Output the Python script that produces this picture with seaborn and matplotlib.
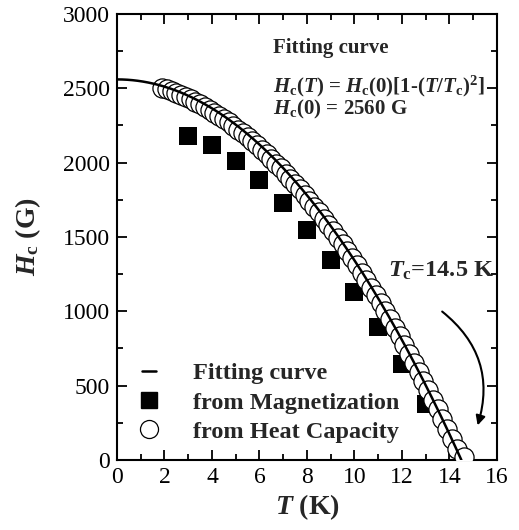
import matplotlib
matplotlib.use("Agg")
import matplotlib.pyplot as plt
from matplotlib.lines import Line2D
from matplotlib.ticker import MultipleLocator
import numpy as np
import seaborn as sns

# fit parameters shown on the chart
HC0 = 2560
TC = 14.5

# from magnetization (filled squares)
mag_T = [3, 4, 5, 6, 7, 8, 9, 10, 11, 12, 13]
mag_H = [2180, 2120, 2010, 1880, 1728, 1545, 1343, 1130, 892, 648, 374]

# from heat capacity (open circles)
hc_T = [1.9, 2.1, 2.3, 2.5, 2.7, 2.9, 3.1, 3.3, 3.5, 3.7, 3.9, 4.1, 4.3, 4.5,
        4.7, 4.9, 5.1, 5.3, 5.5, 5.7, 5.9, 6.1, 6.3, 6.5, 6.7, 6.9, 7.1, 7.3,
        7.5, 7.7, 7.9, 8.1, 8.3, 8.5, 8.7, 8.9, 9.1, 9.3, 9.5, 9.7, 9.9, 10.1,
        10.3, 10.5, 10.7, 10.9, 11.1, 11.3, 11.5, 11.7, 11.9, 12.1, 12.3, 12.5,
        12.7, 12.9, 13.1, 13.3, 13.5, 13.7, 13.9, 14.1, 14.3, 14.6]
hc_H = [2505, 2494, 2482, 2470, 2456, 2442, 2427, 2411, 2394, 2376, 2357, 2337,
        2316, 2294, 2271, 2248, 2223, 2198, 2172, 2144, 2116, 2087, 2057, 2026,
        1994, 1961, 1927, 1892, 1856, 1820, 1782, 1744, 1705, 1665, 1624, 1582,
        1539, 1495, 1450, 1404, 1357, 1309, 1260, 1210, 1159, 1107, 1054, 1000,
        945, 889, 832, 774, 715, 655, 594, 532, 469, 405, 340, 274, 207, 140,
        72, 22]

sns.set_theme(style="ticks")
plt.rcParams['font.family'] = ['Liberation Serif', 'DejaVu Serif']
plt.rcParams['mathtext.fontset'] = 'custom'
plt.rcParams['mathtext.rm'] = 'Liberation Serif:bold'
plt.rcParams['mathtext.it'] = 'Liberation Serif:bold:italic'
plt.rcParams['mathtext.bf'] = 'Liberation Serif:bold'

fig = plt.figure(figsize=(5.19, 5.30), dpi=100)
ax = fig.add_axes([0.2254, 0.1321, 0.7322, 0.8415])

# fit curve
fit_T = np.linspace(0, TC, 200)
fit_H = HC0 * (1 - (fit_T / TC) ** 2)

sns.scatterplot(x=mag_T, y=mag_H, marker='s', s=150, color='black',
                edgecolor='black', linewidth=0, ax=ax, zorder=2)
sns.scatterplot(x=hc_T, y=hc_H, marker='o', s=190, facecolor='white',
                edgecolor='black', linewidth=0.9, ax=ax, zorder=3)
sns.lineplot(x=fit_T, y=fit_H, color='black', linewidth=1.8, ax=ax,
             zorder=4, sort=False)

ax.set_xlim(0, 16)
ax.set_ylim(0, 3000)
ax.xaxis.set_major_locator(MultipleLocator(2))
ax.xaxis.set_minor_locator(MultipleLocator(1))
ax.yaxis.set_major_locator(MultipleLocator(500))
ax.yaxis.set_minor_locator(MultipleLocator(250))
ax.tick_params(which='both', direction='in', top=True, right=True,
               width=1.3, labelsize=17, colors='black', pad=5)
ax.tick_params(which='major', length=7)
ax.tick_params(which='minor', length=4)
for sp in ax.spines.values():
    sp.set_linewidth(1.5)
    sp.set_color('black')

ax.set_xlabel(r'$T$ (K)', fontsize=20, fontweight='bold', labelpad=3)
ax.set_ylabel(r'$H_{\rm c}$ (G)', fontsize=20, fontweight='bold', labelpad=14)

# formula annotation
ax.text(6.55, 2735, 'Fitting curve', fontsize=15, fontweight='bold')
ax.text(6.55, 2475, r'$H_{\rm c}(T)$ = $H_{\rm c}$(0)[1-($T$/$T_{\rm c}$)$^2$]',
        fontsize=15, fontweight='bold')
ax.text(6.55, 2325, r'$H_{\rm c}$(0) = 2560 G', fontsize=15, fontweight='bold')

# Tc annotation
ax.text(11.4, 1230, r'$T_{\rm c}$=14.5 K', fontsize=17.5, fontweight='bold')
ax.annotate('', xy=(15.15, 215), xytext=(13.6, 1010),
            arrowprops=dict(arrowstyle='-|>', color='black', lw=1.5,
                            connectionstyle='arc3,rad=-0.35',
                            mutation_scale=14))

handles = [
    Line2D([], [], color='black', lw=1.8, label='Fitting curve'),
    Line2D([], [], color='black', marker='s', ls='none', ms=11.5,
           label='from Magnetization'),
    Line2D([], [], color='black', marker='o', ls='none', ms=13,
           mfc='white', mew=0.9, label='from Heat Capacity'),
]
ax.legend(handles=handles, loc='lower left', frameon=False,
          prop=dict(size=17.5, weight='bold'), handlelength=0.6,
          handletextpad=1.5, labelspacing=0.3, borderaxespad=0.3,
          bbox_to_anchor=(0.02, 0.0))

fig.savefig('out.png', dpi=100)
